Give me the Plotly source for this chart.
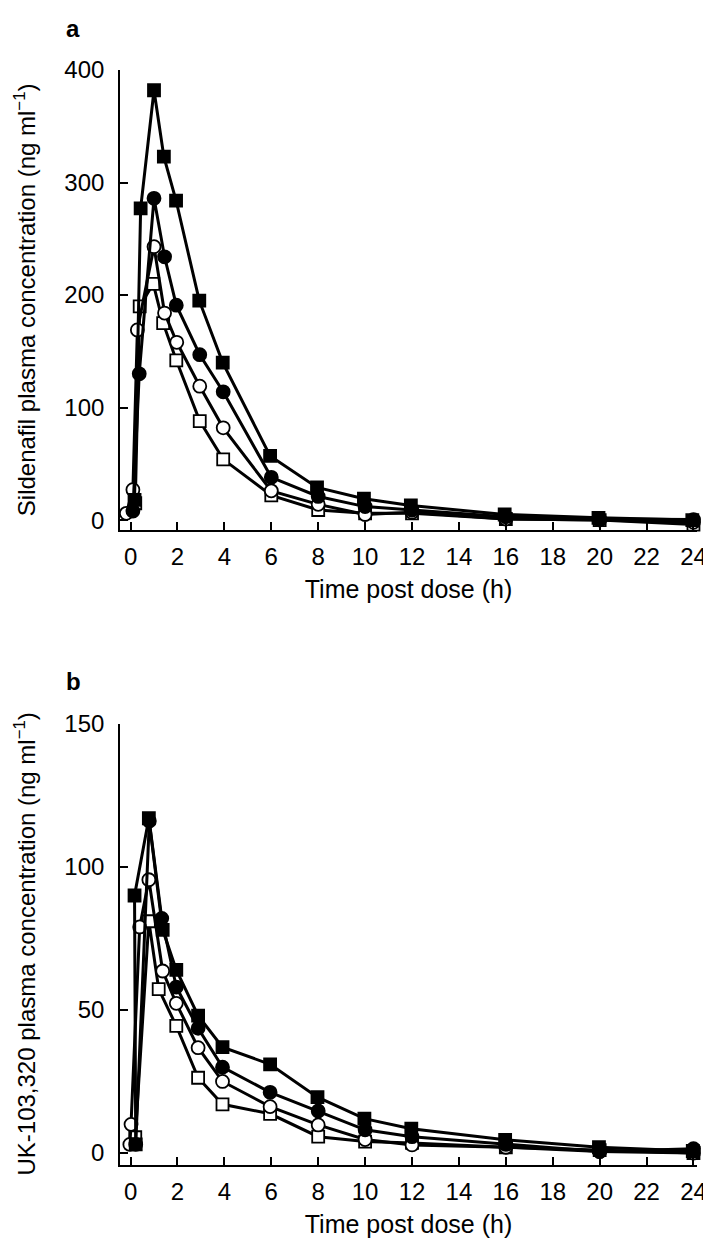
import plotly.graph_objects as go

FONT = "Liberation Sans, Arial, Helvetica, sans-serif"

x_ticks = list(range(0, 25, 2))
ya_ticks = [0, 100, 200, 300, 400]
yb_ticks = [0, 50, 100, 150]

# ---- Panel a: Sildenafil (ng/ml) ----
a_fsq_t = [0.17, 0.43, 1.0, 1.42, 1.94, 2.93, 3.93, 5.95, 7.95, 9.95, 11.95, 15.95, 19.95, 23.95]
a_fsq_v = [18, 277, 382, 323, 284, 195, 140, 57, 29, 19, 13, 5, 2, 0]
a_fci_t = [0.1, 0.37, 1.0, 1.45, 1.95, 2.95, 3.95, 6, 8, 10, 12, 16, 20, 24]
a_fci_v = [8, 130, 286, 234, 191, 147, 114, 38, 21, 12, 9, 3, 1, 0.5]
a_oci_t = [-0.18, 0.1, 0.29, 1.0, 1.45, 1.97, 2.95, 3.95, 6, 8, 10, 12, 16, 20, 24]
a_oci_v = [6, 27, 169, 243, 184, 158, 119, 82, 26, 14, 5, 7, 1, 0, -2]
a_osq_t = [0.2, 0.39, 0.97, 1.39, 1.95, 2.95, 3.95, 6, 8, 10, 12, 16, 20, 24]
a_osq_v = [15, 190, 210, 175, 142, 88, 54, 22, 9, 6, 6, 1, 0, -4]

# ---- Panel b: UK-103,320 (ng/ml) ----
b_fsq_t = [0.22, 0.17, 0.78, 1.37, 1.95, 2.88, 3.92, 5.95, 7.97, 9.97, 11.97, 15.97, 19.97, 23.97]
b_fsq_v = [3, 90, 117, 78, 64, 48, 37, 31, 19.5, 12, 8.5, 4.6, 2, 0.7]
b_fci_t = [0.22, 0.8, 1.33, 1.95, 2.88, 3.92, 5.95, 8, 10, 12, 16, 20, 24]
b_fci_v = [3, 116, 82, 58, 43.6, 30, 21.2, 14.7, 8.1, 5.7, 3, 0.5, 1.5]
b_oci_t = [-0.03, 0.02, 0.39, 0.78, 1.37, 1.95, 2.88, 3.92, 5.95, 8, 10, 12, 16, 20, 24]
b_oci_v = [3, 10, 79, 95.5, 63.6, 52.3, 36.8, 25, 16.2, 9.8, 4.7, 2.8, 2, 0.5, 0]
b_osq_t = [0.2, 0.78, 1.2, 1.95, 2.88, 3.92, 5.95, 8, 10, 12, 16, 20, 24]
b_osq_v = [5.5, 81, 57.3, 44.4, 26.3, 17, 13.7, 5.7, 4, 3.5, 2, 1, 0]

fig = go.Figure()


def add(t, v, symbol, fill, size, xa, ya):
    fig.add_trace(go.Scatter(
        x=t, y=v, mode="lines+markers", xaxis=xa, yaxis=ya,
        line=dict(color="black", width=3),
        marker=dict(symbol=symbol, size=size, color=fill,
                    line=dict(color="black", width=1.8)),
        showlegend=False, cliponaxis=False, hoverinfo="skip"))


for xa, ya, series in [
    ("x", "y", [(a_osq_t, a_osq_v, "square", "white", 12),
                (a_oci_t, a_oci_v, "circle", "white", 13),
                (a_fci_t, a_fci_v, "circle", "black", 13),
                (a_fsq_t, a_fsq_v, "square", "black", 12)]),
    ("x2", "y2", [(b_osq_t, b_osq_v, "square", "white", 12),
                  (b_oci_t, b_oci_v, "circle", "white", 13),
                  (b_fci_t, b_fci_v, "circle", "black", 13),
                  (b_fsq_t, b_fsq_v, "square", "black", 12)]),
]:
    for t, v, sym, fill, size in series:
        add(t, v, sym, fill, size, xa, ya)

axis_common = dict(
    showline=True, linecolor="black", linewidth=1.6,
    ticks="inside", ticklen=8, tickwidth=1.6, tickcolor="black",
    showgrid=False, zeroline=False,
    tickfont=dict(family=FONT, size=24, color="black"),
)

xcommon = dict(axis_common, range=[-0.45, 24.15], tickmode="array", tickvals=x_ticks,
               ticklabelstandoff=4,
               title=dict(text="Time post dose (h)", font=dict(family=FONT, size=25, color="black"),
                          standoff=12))

fig.update_layout(
    width=711, height=1238,
    margin=dict(l=112, r=21, t=62, b=79),
    paper_bgcolor="white", plot_bgcolor="white",
    xaxis=dict(xcommon, anchor="y", domain=[0, 1]),
    yaxis=dict(axis_common, anchor="x", domain=[0.5798, 1], range=[-8.9, 400],
               tickmode="array", tickvals=ya_ticks, ticklabelstandoff=9),
    xaxis2=dict(xcommon, anchor="y2", domain=[0, 1]),
    yaxis2=dict(axis_common, anchor="x2", domain=[0, 0.4029], range=[-4.2, 150],
                tickmode="array", tickvals=yb_ticks, ticklabelstandoff=9),
)

annots = [
    dict(text="<b>a</b>", x=-0.0813, y=1.0383, xref="paper", yref="paper"),
    dict(text="<b>b</b>", x=-0.0813, y=0.4412, xref="paper", yref="paper"),
    dict(text="Sildenafil plasma concentration (ng ml<sup>−1</sup>)", x=-0.1644, y=0.5,
         xref="paper", yref="y domain", textangle=-90),
    dict(text="UK-103,320 plasma concentration (ng ml<sup>−1</sup>)", x=-0.1644, y=0.5,
         xref="paper", yref="y2 domain", textangle=-90),
]
for a in annots:
    fig.add_annotation(showarrow=False, xanchor="center", yanchor="middle",
                       font=dict(family=FONT, size=24, color="black"), **a)

fig.write_html("out.html")
